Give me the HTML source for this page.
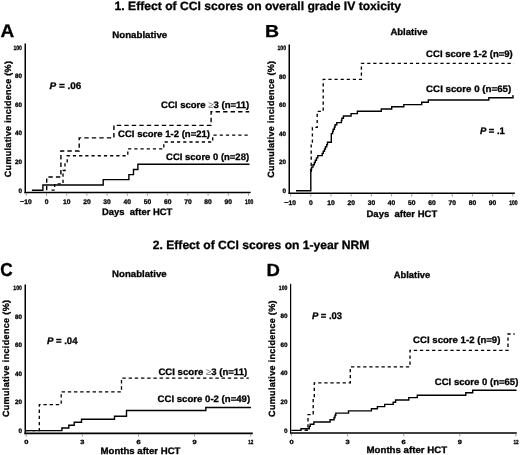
<!DOCTYPE html>
<html><head><meta charset="utf-8"><style>
html,body{margin:0;padding:0;background:#fff;}
body{width:520px;height:455px;overflow:hidden;font-family:"Liberation Sans",sans-serif;}
svg{display:block;will-change:transform;text-rendering:geometricPrecision;}
</style></head><body>
<svg width="520" height="455" viewBox="0 0 520 455">
<rect width="520" height="455" fill="#fff"/>
<g fill="#000" stroke="#000" stroke-linecap="butt" font-family="Liberation Sans, sans-serif" font-weight="bold">
<g stroke="#000" stroke-width="0.3" fill="#000">
<text x="114.6" y="10.4" font-size="12" text-anchor="start" textLength="286.52" lengthAdjust="spacingAndGlyphs" >1. Effect of CCI scores on overall grade IV toxicity</text>
<text x="152.8" y="249.2" font-size="12" text-anchor="start" textLength="216.62" lengthAdjust="spacingAndGlyphs" >2. Effect of CCI scores on 1-year NRM</text>
<text x="0.5" y="37.4" font-size="18.3" text-anchor="start" textLength="13.72" lengthAdjust="spacingAndGlyphs" >A</text>
<text x="265" y="37" font-size="17.4" text-anchor="start" textLength="14.07" lengthAdjust="spacingAndGlyphs" >B</text>
<text x="0.2" y="276.3" font-size="18.8" text-anchor="start" textLength="12.48" lengthAdjust="spacingAndGlyphs" >C</text>
<text x="266.6" y="275.9" font-size="17.6" text-anchor="start" textLength="13.41" lengthAdjust="spacingAndGlyphs" >D</text>
<text x="22" y="49.5" font-size="6.3" text-anchor="end" textLength="8.6" lengthAdjust="spacingAndGlyphs">100</text>
<text x="22" y="78.15" font-size="6.3" text-anchor="end" >80</text>
<text x="22" y="106.75" font-size="6.3" text-anchor="end" >60</text>
<text x="22" y="135.35" font-size="6.3" text-anchor="end" >40</text>
<text x="22" y="163.95" font-size="6.3" text-anchor="end" >20</text>
<text x="22" y="192.55" font-size="6.3" text-anchor="end" >0</text>
<text x="25.8" y="204.01" font-size="6.7" text-anchor="middle" ><tspan font-size="7.37">−</tspan>10</text>
<text x="46.5" y="204.01" font-size="6.7" text-anchor="middle" >0</text>
<text x="66.7" y="204.01" font-size="6.7" text-anchor="middle" >10</text>
<text x="86.9" y="204.01" font-size="6.7" text-anchor="middle" >20</text>
<text x="107.1" y="204.01" font-size="6.7" text-anchor="middle" >30</text>
<text x="127.3" y="204.01" font-size="6.7" text-anchor="middle" >40</text>
<text x="147.5" y="204.01" font-size="6.7" text-anchor="middle" >50</text>
<text x="167.7" y="204.01" font-size="6.7" text-anchor="middle" >60</text>
<text x="187.9" y="204.01" font-size="6.7" text-anchor="middle" >70</text>
<text x="208.1" y="204.01" font-size="6.7" text-anchor="middle" >80</text>
<text x="228.3" y="204.01" font-size="6.7" text-anchor="middle" >90</text>
<text x="249.1" y="204.01" font-size="6.7" text-anchor="middle" textLength="8.4" lengthAdjust="spacingAndGlyphs">100</text>
<text x="286.1" y="50" font-size="6.3" text-anchor="end" textLength="8.6" lengthAdjust="spacingAndGlyphs">100</text>
<text x="286.1" y="78.65" font-size="6.3" text-anchor="end" >80</text>
<text x="286.1" y="107.25" font-size="6.3" text-anchor="end" >60</text>
<text x="286.1" y="135.85" font-size="6.3" text-anchor="end" >40</text>
<text x="286.1" y="164.45" font-size="6.3" text-anchor="end" >20</text>
<text x="286.1" y="193.05" font-size="6.3" text-anchor="end" >0</text>
<text x="290.1" y="204.61" font-size="6.7" text-anchor="middle" ><tspan font-size="7.37">−</tspan>10</text>
<text x="310.8" y="204.61" font-size="6.7" text-anchor="middle" >0</text>
<text x="331" y="204.61" font-size="6.7" text-anchor="middle" >10</text>
<text x="351.2" y="204.61" font-size="6.7" text-anchor="middle" >20</text>
<text x="371.4" y="204.61" font-size="6.7" text-anchor="middle" >30</text>
<text x="391.6" y="204.61" font-size="6.7" text-anchor="middle" >40</text>
<text x="411.8" y="204.61" font-size="6.7" text-anchor="middle" >50</text>
<text x="432" y="204.61" font-size="6.7" text-anchor="middle" >60</text>
<text x="452.2" y="204.61" font-size="6.7" text-anchor="middle" >70</text>
<text x="472.4" y="204.61" font-size="6.7" text-anchor="middle" >80</text>
<text x="492.6" y="204.61" font-size="6.7" text-anchor="middle" >90</text>
<text x="513.4" y="204.61" font-size="6.7" text-anchor="middle" textLength="8.4" lengthAdjust="spacingAndGlyphs">100</text>
<text x="21.9" y="290.1" font-size="6.3" text-anchor="end" textLength="8.6" lengthAdjust="spacingAndGlyphs">100</text>
<text x="21.9" y="318.69" font-size="6.3" text-anchor="end" >80</text>
<text x="21.9" y="347.23" font-size="6.3" text-anchor="end" >60</text>
<text x="21.9" y="375.77" font-size="6.3" text-anchor="end" >40</text>
<text x="21.9" y="404.31" font-size="6.3" text-anchor="end" >20</text>
<text x="21.9" y="432.85" font-size="6.3" text-anchor="end" >0</text>
<text x="26.3" y="444.16" font-size="6" text-anchor="middle" textLength="4.14" lengthAdjust="spacingAndGlyphs" >0</text>
<text x="82.4" y="444.16" font-size="6" text-anchor="middle" textLength="4.14" lengthAdjust="spacingAndGlyphs" >3</text>
<text x="138.5" y="444.16" font-size="6" text-anchor="middle" textLength="4.14" lengthAdjust="spacingAndGlyphs" >6</text>
<text x="194.6" y="444.16" font-size="6" text-anchor="middle" textLength="4.14" lengthAdjust="spacingAndGlyphs" >9</text>
<text x="250.8" y="444.16" font-size="6" text-anchor="middle" textLength="5.2" lengthAdjust="spacingAndGlyphs">12</text>
<text x="287.4" y="289.7" font-size="6.3" text-anchor="end" textLength="8.6" lengthAdjust="spacingAndGlyphs">100</text>
<text x="287.4" y="318.33" font-size="6.3" text-anchor="end" >80</text>
<text x="287.4" y="346.91" font-size="6.3" text-anchor="end" >60</text>
<text x="287.4" y="375.49" font-size="6.3" text-anchor="end" >40</text>
<text x="287.4" y="404.07" font-size="6.3" text-anchor="end" >20</text>
<text x="287.4" y="432.65" font-size="6.3" text-anchor="end" >0</text>
<text x="291.5" y="443.96" font-size="6" text-anchor="middle" textLength="4.14" lengthAdjust="spacingAndGlyphs" >0</text>
<text x="347.6" y="443.96" font-size="6" text-anchor="middle" textLength="4.14" lengthAdjust="spacingAndGlyphs" >3</text>
<text x="403.7" y="443.96" font-size="6" text-anchor="middle" textLength="4.14" lengthAdjust="spacingAndGlyphs" >6</text>
<text x="459.8" y="443.96" font-size="6" text-anchor="middle" textLength="4.14" lengthAdjust="spacingAndGlyphs" >9</text>
<text x="516" y="443.96" font-size="6" text-anchor="middle" textLength="5.2" lengthAdjust="spacingAndGlyphs">12</text>
<text x="0.15" y="0" font-size="9" text-anchor="middle" letter-spacing="0.31" transform="translate(11.4 119.15) rotate(-90)" font-family="Liberation Sans, sans-serif" font-weight="bold">Cumulative incidence (%)</text>
<text x="0.17" y="0" font-size="9" text-anchor="middle" letter-spacing="0.34" transform="translate(274 119.3) rotate(-90)" font-family="Liberation Sans, sans-serif" font-weight="bold">Cumulative incidence (%)</text>
<text x="0.18" y="0" font-size="9" text-anchor="middle" letter-spacing="0.35" transform="translate(8.8 358.55) rotate(-90)" font-family="Liberation Sans, sans-serif" font-weight="bold">Cumulative incidence (%)</text>
<text x="0.16" y="0" font-size="9" text-anchor="middle" letter-spacing="0.32" transform="translate(274.5 358.7) rotate(-90)" font-family="Liberation Sans, sans-serif" font-weight="bold">Cumulative incidence (%)</text>
<text x="102" y="215.2" font-size="9.4" text-anchor="start" textLength="70.4" lengthAdjust="spacingAndGlyphs" >Days  after HCT</text>
<text x="366.5" y="216.9" font-size="9.4" text-anchor="start" textLength="70.7" lengthAdjust="spacingAndGlyphs" >Days  after HCT</text>
<text x="100.6" y="453.6" font-size="9.4" text-anchor="start" textLength="79.83" lengthAdjust="spacingAndGlyphs" >Months after HCT</text>
<text x="366.5" y="452.8" font-size="9.4" text-anchor="start" textLength="80.63" lengthAdjust="spacingAndGlyphs" >Months after HCT</text>
<text x="112.3" y="37.6" font-size="9.4" text-anchor="start" textLength="54.88" lengthAdjust="spacingAndGlyphs" >Nonablative</text>
<text x="390.4" y="34.9" font-size="9.4" text-anchor="start" textLength="37.17" lengthAdjust="spacingAndGlyphs" >Ablative</text>
<text x="112.1" y="277" font-size="9.4" text-anchor="start" textLength="54.58" lengthAdjust="spacingAndGlyphs" >Nonablative</text>
<text x="393.8" y="277.6" font-size="9.4" text-anchor="start" textLength="36.37" lengthAdjust="spacingAndGlyphs" >Ablative</text>
<text x="49.6" y="88.9" font-size="9.6" textLength="31.79" lengthAdjust="spacingAndGlyphs" font-family="Liberation Sans, sans-serif" font-weight="bold"><tspan font-style="italic">P</tspan> = .06</text>
<text x="479.9" y="134.2" font-size="9.6" textLength="24.95" lengthAdjust="spacingAndGlyphs" font-family="Liberation Sans, sans-serif" font-weight="bold"><tspan font-style="italic">P</tspan> = .1</text>
<text x="46.9" y="343.7" font-size="9.6" textLength="30.59" lengthAdjust="spacingAndGlyphs" font-family="Liberation Sans, sans-serif" font-weight="bold"><tspan font-style="italic">P</tspan> = .04</text>
<text x="311.9" y="319.2" font-size="9.6" textLength="30.19" lengthAdjust="spacingAndGlyphs" font-family="Liberation Sans, sans-serif" font-weight="bold"><tspan font-style="italic">P</tspan> = .03</text>
<text x="161.1" y="107.8" font-size="9.4" text-anchor="start" textLength="88.22" lengthAdjust="spacingAndGlyphs" >CCI score <tspan fill="#666" stroke="none" font-weight="normal">≥</tspan>3 (n=11)</text>
<text x="118.1" y="137.1" font-size="9.4" text-anchor="start" textLength="91.94" lengthAdjust="spacingAndGlyphs" >CCI score 1-2 (n=21)</text>
<text x="166.1" y="160" font-size="9.4" text-anchor="start" textLength="82.98" lengthAdjust="spacingAndGlyphs" >CCI score 0 (n=28)</text>
<text x="426.1" y="56.8" font-size="9.4" text-anchor="start" textLength="86.71" lengthAdjust="spacingAndGlyphs" >CCI score 1-2 (n=9)</text>
<text x="426.1" y="92.1" font-size="9.4" text-anchor="start" textLength="85.18" lengthAdjust="spacingAndGlyphs" >CCI score 0 (n=65)</text>
<text x="158.4" y="374.9" font-size="9.4" text-anchor="start" textLength="88.82" lengthAdjust="spacingAndGlyphs" >CCI score <tspan fill="#666" stroke="none" font-weight="normal">≥</tspan>3 (n=11)</text>
<text x="157.6" y="401.9" font-size="9.4" text-anchor="start" textLength="92.54" lengthAdjust="spacingAndGlyphs" >CCI score 0-2 (n=49)</text>
<text x="413.1" y="343" font-size="9.4" text-anchor="start" textLength="87.31" lengthAdjust="spacingAndGlyphs" >CCI score 1-2 (n=9)</text>
<text x="434.8" y="384.8" font-size="9.4" text-anchor="start" textLength="83.58" lengthAdjust="spacingAndGlyphs" >CCI score 0 (n=65)</text>
</g>
<g>
<line x1="25.25" y1="43.5" x2="25.25" y2="193.15" stroke-width="1.5" />
<line x1="24.5" y1="192.45" x2="250.6" y2="192.45" stroke-width="1.4" />
<line x1="26.3" y1="193.15" x2="26.3" y2="195.75" stroke-width="0.8" stroke="#888"/>
<line x1="46.5" y1="193.15" x2="46.5" y2="195.75" stroke-width="0.8" stroke="#888"/>
<line x1="66.7" y1="193.15" x2="66.7" y2="195.75" stroke-width="0.8" stroke="#888"/>
<line x1="86.9" y1="193.15" x2="86.9" y2="195.75" stroke-width="0.8" stroke="#888"/>
<line x1="107.1" y1="193.15" x2="107.1" y2="195.75" stroke-width="0.8" stroke="#888"/>
<line x1="127.3" y1="193.15" x2="127.3" y2="195.75" stroke-width="0.8" stroke="#888"/>
<line x1="147.5" y1="193.15" x2="147.5" y2="195.75" stroke-width="0.8" stroke="#888"/>
<line x1="167.7" y1="193.15" x2="167.7" y2="195.75" stroke-width="0.8" stroke="#888"/>
<line x1="187.9" y1="193.15" x2="187.9" y2="195.75" stroke-width="0.8" stroke="#888"/>
<line x1="208.1" y1="193.15" x2="208.1" y2="195.75" stroke-width="0.8" stroke="#888"/>
<line x1="228.3" y1="193.15" x2="228.3" y2="195.75" stroke-width="0.8" stroke="#888"/>
<line x1="248.5" y1="193.15" x2="248.5" y2="195.75" stroke-width="0.8" stroke="#888"/>
<line x1="289.25" y1="44.6" x2="289.25" y2="193.9" stroke-width="1.5" />
<line x1="288.5" y1="193.2" x2="514.8" y2="193.2" stroke-width="1.4" />
<line x1="290.6" y1="193.9" x2="290.6" y2="196.5" stroke-width="0.8" stroke="#888"/>
<line x1="310.8" y1="193.9" x2="310.8" y2="196.5" stroke-width="0.8" stroke="#888"/>
<line x1="331" y1="193.9" x2="331" y2="196.5" stroke-width="0.8" stroke="#888"/>
<line x1="351.2" y1="193.9" x2="351.2" y2="196.5" stroke-width="0.8" stroke="#888"/>
<line x1="371.4" y1="193.9" x2="371.4" y2="196.5" stroke-width="0.8" stroke="#888"/>
<line x1="391.6" y1="193.9" x2="391.6" y2="196.5" stroke-width="0.8" stroke="#888"/>
<line x1="411.8" y1="193.9" x2="411.8" y2="196.5" stroke-width="0.8" stroke="#888"/>
<line x1="432" y1="193.9" x2="432" y2="196.5" stroke-width="0.8" stroke="#888"/>
<line x1="452.2" y1="193.9" x2="452.2" y2="196.5" stroke-width="0.8" stroke="#888"/>
<line x1="472.4" y1="193.9" x2="472.4" y2="196.5" stroke-width="0.8" stroke="#888"/>
<line x1="492.6" y1="193.9" x2="492.6" y2="196.5" stroke-width="0.8" stroke="#888"/>
<line x1="512.8" y1="193.9" x2="512.8" y2="196.5" stroke-width="0.8" stroke="#888"/>
<line x1="25.25" y1="284.4" x2="25.25" y2="434.15" stroke-width="1.5" />
<line x1="24.5" y1="433.3" x2="252.8" y2="433.3" stroke-width="1.7" />
<line x1="26.3" y1="434.15" x2="26.3" y2="436.75" stroke-width="0.8" stroke="#888"/>
<line x1="82.4" y1="434.15" x2="82.4" y2="436.75" stroke-width="0.8" stroke="#888"/>
<line x1="138.5" y1="434.15" x2="138.5" y2="436.75" stroke-width="0.8" stroke="#888"/>
<line x1="194.6" y1="434.15" x2="194.6" y2="436.75" stroke-width="0.8" stroke="#888"/>
<line x1="250.7" y1="434.15" x2="250.7" y2="436.75" stroke-width="0.8" stroke="#888"/>
<line x1="290.6" y1="283.8" x2="290.6" y2="433.8" stroke-width="1.25" />
<line x1="289.98" y1="433" x2="516.8" y2="433" stroke-width="1.6" />
<line x1="291.5" y1="433.8" x2="291.5" y2="436.4" stroke-width="0.8" stroke="#888"/>
<line x1="347.6" y1="433.8" x2="347.6" y2="436.4" stroke-width="0.8" stroke="#888"/>
<line x1="403.7" y1="433.8" x2="403.7" y2="436.4" stroke-width="0.8" stroke="#888"/>
<line x1="459.8" y1="433.8" x2="459.8" y2="436.4" stroke-width="0.8" stroke="#888"/>
<line x1="515.9" y1="433.8" x2="515.9" y2="436.4" stroke-width="0.8" stroke="#888"/>
<path d="M31.9 190.3 H42.9 V185 H103.2 V179.6 H128.9 V174.6 H133.5 V169.5 H137.9 V164.3 H249.5" stroke-width="1.4" fill="none"/>
<path d="M46.7 190.3 H46.7 V177 H60.9 V151 H79.2 V137.9 H113.9 V125.4 H211.1 V111.7 H249.2" stroke-width="1.4" fill="none" stroke-dasharray="4.4 3.1"/>
<path d="M51.5 190.1 H54.7 V183.8 H63 V170.5 H65 V163.2 H67.2 V155.7 H127.8 V148.9 H163.8 V142 H212.7 V135.1 H249" stroke-width="1.35" fill="none" stroke-dasharray="3.2 3.0"/>
<path d="M296 190.8 H310.8 V169.4 H311.6 V167.1 H313 V164.8 H314.3 V162.5 H315.3 V160.2 H316.5 V157.9 H317.8 V155.6 H322.2 V153.4 H323.3 V151.2 H324.5 V149 H325.5 V146.8 H326.7 V144.6 H327.5 V142.2 H331.3 V133.6 H332.6 V131.4 H333.2 V129.2 H334.4 V127 H335.1 V124.8 H336.8 V122.6 H341.4 V120.4 H341.9 V118.2 H343.4 V116 H351.1 V113.6 H357.4 V111.2 H381.3 V109 H391.7 V106.8 H403.8 V104.6 H421.7 V102.3 H428.3 V100 H488.8 V97.7 H513 V95.6 H513.4" stroke-width="1.4" fill="none"/>
<path d="M311.2 172 H311.2 V143.3 H312.4 V127.4 H317.2 V111.4 H323.2 V79.4 H361.4 V63.3 H513.7" stroke-width="1.35" fill="none" stroke-dasharray="3.2 2.9"/>
<path d="M26 430.6 H61.9 V428 H68.8 V425.3 H74.2 V422.3 H81.5 V419.3 H114.5 V416.3 H126.5 V410.5 H205.8 V407.5 H251" stroke-width="1.4" fill="none"/>
<path d="M26 430.6 H39.3 V404.6 H61.2 V391.8 H121.5 V378.2 H248.8" stroke-width="1.3" fill="none" stroke-dasharray="3.4 2.8"/>
<path d="M291.3 430.4 H301 V428.7 H309.3 V426.4 H310.2 V424.2 H313.9 V422 H330.1 V419.7 H334.1 V417.5 H335 V415.3 H335.8 V413.1 H348.5 V410.9 H371.4 V408.8 H377.4 V406.6 H384.7 V404.4 H393.2 V402.2 H395.6 V400 H408.8 V397.6 H417.3 V395.2 H465.8 V392.8 H472.7 V390.2 H516.5" stroke-width="1.4" fill="none"/>
<path d="M304.6 430.2 H308 V414.6 H313.2 V398.8 H314.3 V382.8 H350.3 V366.8 H410 V350.3 H508 V334 H514.7" stroke-width="1.35" fill="none" stroke-dasharray="3.3 2.8"/>
</g>
</g>
</svg>
</body></html>
